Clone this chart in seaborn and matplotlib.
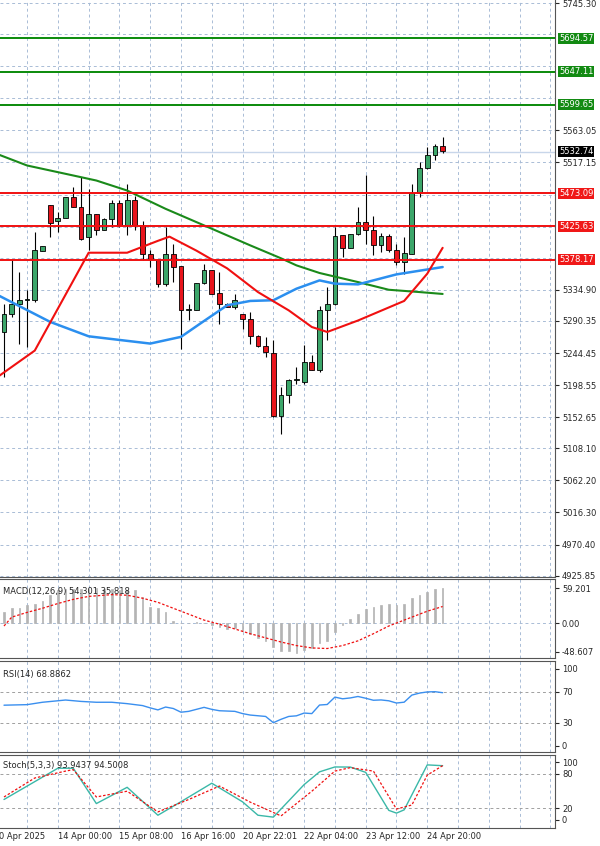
import numpy as np
import pandas as pd
import matplotlib
matplotlib.use("Agg")
import matplotlib.pyplot as plt
import seaborn as sns

sns.set_style("white")
plt.rcParams["font.family"] = "DejaVu Sans"

# ---- data ----
opens = [5274.6,5300.9,5315,5321,5320,5391,5455.6,5434,5438,5467.5,5453,5410,5443.7,5420.8,5436.5,5459,5427,5462.8,5427,5386.6,
         5379.4,5343.7,5386.6,5368.5,5305.7,5306,5344.6,5362.7,5330,5315,5311,5300,5293.8,5268.5,5254,5244.6,5154,5184.2,5206.5,5203,
         5231.7,5219.8,5306.5,5314,5412.8,5395.2,5414.2,5431.8,5419.9,5398.5,5411.3,5392.3,5374.7,5386.6,5473.2,5509.4,5528.5,5540]
highs = [5315,5379.4,5360.4,5334,5417.5,5398,5456,5446,5468,5482.7,5496,5479.4,5444,5437,5462.8,5463,5486.6,5468.5,5434,5391.4,
         5379,5424.7,5400.9,5368.5,5315,5345,5371.3,5363,5360.4,5316,5329.5,5301,5303.3,5270,5267.6,5262.8,5196,5206.6,5224.6,5255.5,
         5241.3,5311.3,5338.9,5424.7,5412.8,5414.2,5453.2,5498.5,5439.9,5416,5415,5400.9,5410.4,5486.6,5517.5,5539,5543.7,5553.2]
lows = [5210,5296,5258,5253,5317.6,5390,5410.4,5417.5,5438,5453,5405.6,5391.4,5412.8,5420,5424.7,5424.7,5412.8,5420,5377,5367.5,
        5339,5341,5346,5250.9,5292.3,5306,5343.7,5329,5286.6,5310,5308,5279.5,5258,5253.3,5239,5153.2,5128.4,5172.3,5200.8,5200.8,
        5219.8,5217.4,5262.8,5312.8,5381.8,5395.2,5412.8,5400.9,5384.2,5389,5389,5369.9,5358,5385.6,5467.5,5508,5520,5530.4]
closes = [5300.9,5315,5320.9,5321,5391.4,5397,5430.4,5438,5467.5,5453,5408,5443.7,5420.8,5436.5,5459,5427,5462.8,5427,5386.6,5379.4,
          5343.7,5386.6,5367.5,5305.7,5308,5344.6,5362.7,5329.5,5315,5311,5320.9,5293.8,5268.5,5254,5246,5154,5184.2,5206.5,5206.5,5231.7,
          5219.8,5306.5,5315,5411.3,5395.2,5414.2,5431.8,5419.9,5398.5,5411.3,5392.3,5374.7,5387.5,5473.2,5509.4,5528.5,5541.3,5533.2]

red_ma_x = [-0.5,5,12,17,21,22.5,26,30,34,38,41,43,47,53,56,58]
red_ma_y = [5205,5248,5388,5388,5405,5411,5391,5365.6,5331.7,5305.5,5281.7,5274.6,5291,5319,5358,5395]
blue_ma_x = [-0.5,7,12,20,24,26.5,30,33,36,39,42,44,47,52,58]
blue_ma_y = [5331.3,5289,5268.4,5258,5267.6,5286.6,5312.8,5319,5320,5336.5,5348.4,5343.7,5342.7,5357,5367.5]
green_ma_x = [-0.5,4,10,13,17,22,27.5,33,37,39,42,47,51,55,58]
green_ma_y = [5531.8,5512.8,5498.5,5491.3,5477,5450.8,5424.7,5398.5,5380,5369.9,5359,5346,5335,5331.7,5329]

green_levels = [5694.57,5647.11,5599.65]
red_levels = [5473.09,5425.63,5378.17]
last_price = 5532.74
price_ticks = [5745.30,5563.05,5517.15,5334.90,5290.35,5244.45,
               5198.55,5152.65,5108.10,5062.20,5016.30,4970.40,4925.85]
grid_prices = [5745.30,5700.75,5654.85,5608.95,5563.05,5517.15,5471.25,5425.35,5380.80,5334.90,5290.35,5244.45,
               5198.55,5152.65,5108.10,5062.20,5016.30,4970.40,4925.85]

macd_hist = [19,25,25,30,33,38,47,55,58,58,57,58,59,58,58,55,55,55,44,27,25,19,3,0,0,1,0,-3,-6,-10,
             -9,-14,-18,-25,-30,-40,-48,-48,-50,-45,-42,-33,-30,-15,-3,7,16,24,27,30,33,30,33,42,48,53,57,59]
sig_x = [1,2,4,6,8,10,12,15,17,19,21,23,25,27,29,31,33,35,37,39,41,43,45,47,49,51,53,55,56,58]
sig_y = [-5,10,18,25,33,40,45,48,47,42,35,25,15,5,-2,-10,-18,-25,-32,-38,-42,-43,-38,-30,-18,-5,5,15,20,28]

rsi_x = [1,4,6,9,11,13,15,17,19,20,21,22,23,24,25,27,28,29,31,32,33,35,36,37,38,39,40,41,42,43,44,45,46,47,48,49,50,51,52,53,54,55,56,57,58]
rsi_y = [52.7,53.4,56.5,59.4,57.6,56.5,56.5,54.7,52.2,49.2,46.6,50.3,48.4,43.6,44.7,49.9,47.3,45.5,44.7,41.8,39.9,38.1,30,34.4,38.1,38.9,42.5,41.8,52.9,53.6,63.2,61,62.1,64,61.7,59.1,59.5,58.4,55.5,56.6,65.8,68.4,69.9,70.2,68.9]

stk_x = [1,8,10,13,17,21,24,28,32,34,36,40,42,44,46,48,51,52,53,56,58]
stk_y = [35.6,90,90,28.5,56.8,8.2,31.8,63.9,31.5,8.2,4.9,61.5,83.7,92.2,92,82.8,16.7,11.9,17.6,95.8,94.4]
std_x = [1,5,9,10,13,17,21,25,29,33,37,41,44,46,49,52,54,56,58]
std_y = [40,73,85,87.5,40,50,14,35.6,59,31,7,50,85,91,85,19,26,78,94.5]

date_labels = ["0 Apr 2025","14 Apr 00:00","15 Apr 08:00","16 Apr 16:00","20 Apr 22:01","22 Apr 04:00","23 Apr 12:00","24 Apr 20:00"]

# ---- layout ----
W, H = 600, 846
fig = plt.figure(figsize=(W/100, H/100), dpi=100)
def axrect(top, bottom, left=0, right=555):
    return [left/W, 1-bottom/H, (right-left)/W, (bottom-top)/H]

ax = fig.add_axes(axrect(0, 577))
axm = fig.add_axes(axrect(579, 658), sharex=ax)
axr = fig.add_axes(axrect(661, 752), sharex=ax)
axs = fig.add_axes(axrect(755, 828), sharex=ax)

x = np.arange(1, len(opens)+1)
xmin, xmax = 0.48, 72.6
gridc = "#a9bcd6"
vgrid = np.arange(4, 73, 4)
FS = 6

for a in (ax, axm, axr, axs):
    a.set_xlim(xmin, xmax)
    for v in vgrid:
        a.axvline(v, color=gridc, ls=(0, (3, 3)), lw=0.7, zorder=0)
    a.tick_params(left=False, labelleft=False, bottom=False, labelbottom=False,
                  right=True, labelright=True, labelsize=FS, length=3, pad=2)
    for s in a.spines.values():
        s.set_color("#555555"); s.set_linewidth(0.8)
    a.spines["left"].set_visible(False)
ax.spines["top"].set_visible(False)

# main
ax.set_ylim(4924, 5749.6)
for t in grid_prices:
    ax.axhline(t, color=gridc, ls=(0, (3, 3)), lw=0.7, zorder=0)
ax.set_yticks(price_ticks)
ax.set_yticklabels([f"{t:.2f}" for t in price_ticks])
ax.axhline(last_price, color="#c8d6ea", lw=1, zorder=1)

up = np.array(closes) >= np.array(opens)
ax.vlines(x, lows, highs, color="black", lw=0.8, zorder=3)
bot = np.minimum(opens, closes)
hgt = np.maximum(np.abs(np.array(closes)-np.array(opens)), 1.2)
ax.bar(x[up], hgt[up], bottom=bot[up], width=0.62, color="#3ca66a", edgecolor="black", lw=0.6, zorder=4)
ax.bar(x[~up], hgt[~up], bottom=bot[~up], width=0.62, color="#e8141c", edgecolor="black", lw=0.6, zorder=4)

sns.lineplot(x=green_ma_x, y=green_ma_y, ax=ax, color="#1a8a1a", lw=1.5, zorder=5)
sns.lineplot(x=blue_ma_x, y=blue_ma_y, ax=ax, color="#2b8fef", lw=1.8, zorder=5)
sns.lineplot(x=red_ma_x, y=red_ma_y, ax=ax, color="#f01010", lw=1.5, zorder=5)

def box(lv, fc):
    ax.text(1.007, lv, f"{lv:.2f}", transform=ax.get_yaxis_transform(), va="center", ha="left",
            fontsize=FS, color="white", bbox=dict(boxstyle="square,pad=0.12", fc=fc, ec="none"),
            zorder=10, clip_on=False)
for lv in green_levels:
    ax.axhline(lv, color="#0a8a0a", lw=1.4, zorder=6); box(lv, "#128a12")
for lv in red_levels:
    ax.axhline(lv, color="#f01010", lw=1.4, zorder=6); box(lv, "#f01818")
box(last_price, "black")

# MACD
axm.set_ylim(-59, 74.4)
axm.set_yticks([59.201, 0.0, -48.607]); axm.set_yticklabels(["59.201", "0.00", "-48.607"])
axm.axhline(0, color=gridc, ls=(0, (3, 3)), lw=0.7, zorder=0)
axm.bar(x, macd_hist, width=0.22, color="#b4b4b4", edgecolor="#b4b4b4", lw=0.5, zorder=2)
sns.lineplot(x=sig_x, y=sig_y, ax=axm, color="#f01010", lw=0.9, ls=(0, (2, 1.5)), zorder=3)
axm.text(0.005, 0.9, "MACD(12,26,9) 54.301 35.818", transform=axm.transAxes, fontsize=FS, va="top")

# RSI
axr.set_ylim(-8, 110)
axr.set_yticks([100, 70, 30, 0])
for v in (70, 30):
    axr.axhline(v, color="#a0a0a0", ls=(0, (3, 3)), lw=0.7, zorder=0)
sns.lineplot(x=rsi_x, y=rsi_y, ax=axr, color="#3a8fef", lw=1.0, zorder=3)
axr.text(0.005, 0.9, "RSI(14) 68.8862", transform=axr.transAxes, fontsize=FS, va="top")

# Stoch
axs.set_ylim(-14, 113)
axs.set_yticks([100, 80, 20, 0])
for v in (80, 20):
    axs.axhline(v, color="#a0a0a0", ls=(0, (3, 3)), lw=0.7, zorder=0)
sns.lineplot(x=stk_x, y=stk_y, ax=axs, color="#3ab8a8", lw=1.0, zorder=3)
sns.lineplot(x=std_x, y=std_y, ax=axs, color="#f01010", lw=0.9, ls=(0, (2, 1.5)), zorder=3)
axs.text(0.005, 0.92, "Stoch(5,3,3) 93.9437 94.5008", transform=axs.transAxes, fontsize=FS, va="top")

for i, lab in enumerate(date_labels):
    xp = 0.3 if i == 0 else 8*i
    axs.text(xp, -0.06, lab, transform=axs.get_xaxis_transform(), fontsize=FS, va="top", ha="left", clip_on=False)

for a in (ax, axm, axr, axs):
    a.set_xlabel(""); a.set_ylabel("")
    if a.get_legend(): a.get_legend().remove()

fig.savefig("out.png", dpi=100)
